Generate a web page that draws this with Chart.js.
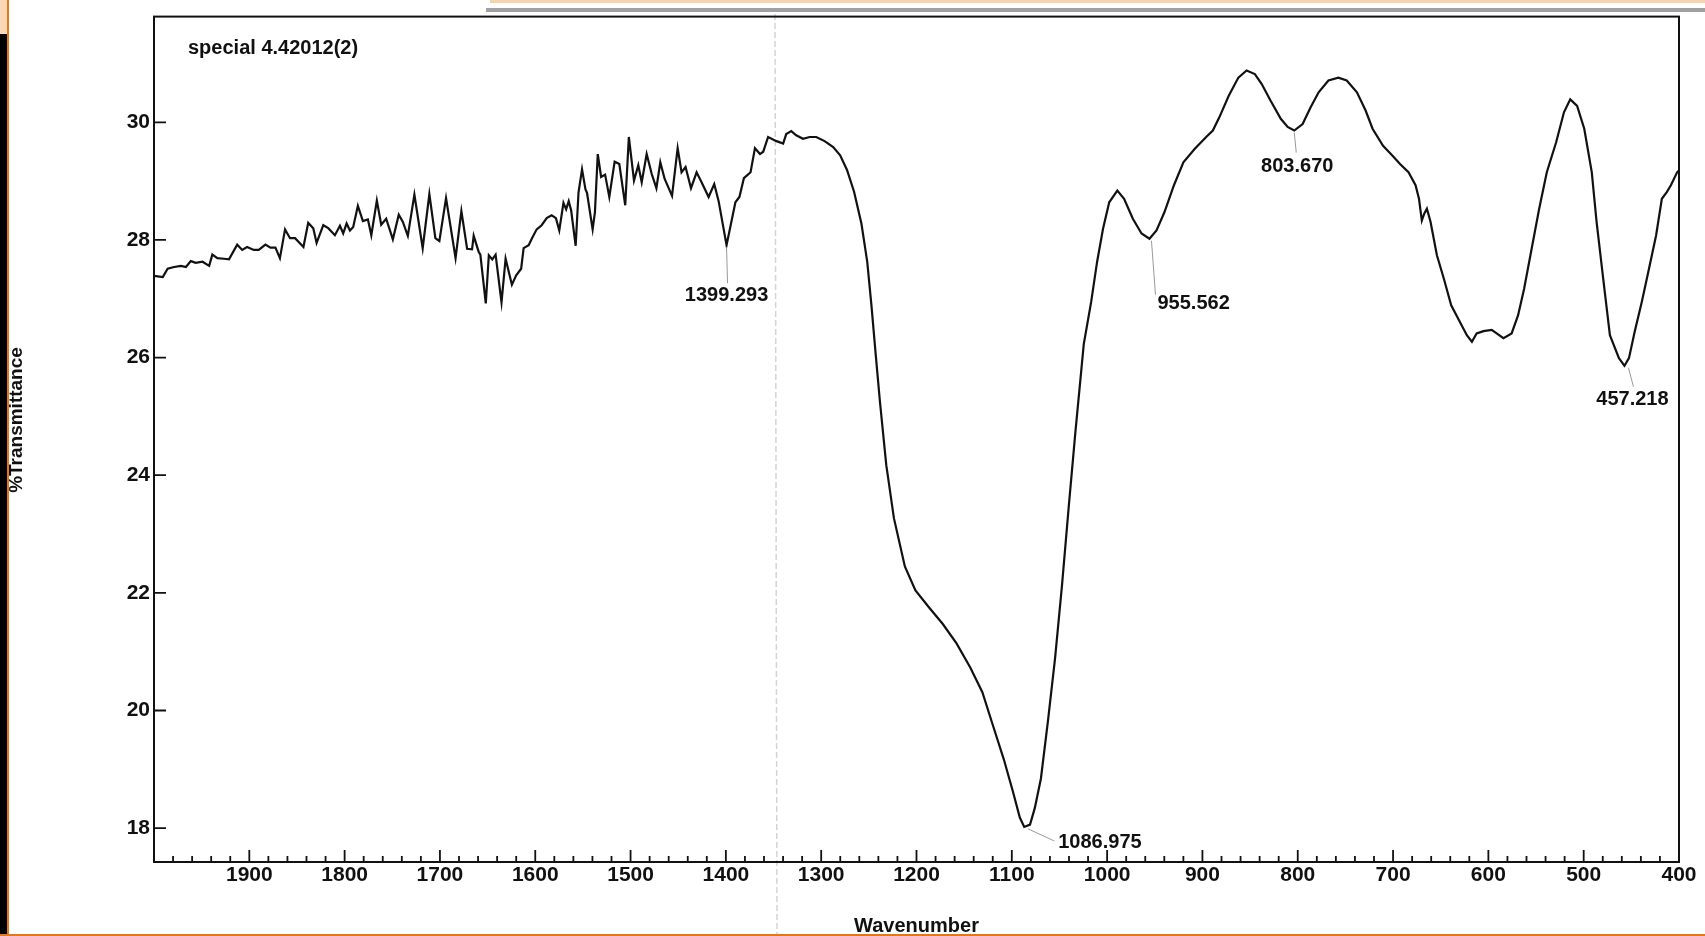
<!DOCTYPE html>
<html>
<head>
<meta charset="utf-8">
<title>IR spectrum - special 4.42012(2)</title>
<script src="https://cdn.jsdelivr.net/npm/chart.js@4.4.1/dist/chart.umd.min.js"></script>
<style>
  html, body { margin: 0; padding: 0; background: #fff; overflow: hidden; }
  #wrap { width: 1705px; height: 936px; position: relative; }
</style>
</head>
<body>
<div id="wrap"><canvas id="irChart" width="1705" height="936"></canvas></div>
<script>
// spectrum (cm-1, high -> low)
const wavenumbers = [
  2000, 1990.8, 1985.7, 1978.8, 1971.8, 1966.5, 1961.4, 1956.2, 1949.1, 1942.1,
  1938.8, 1933.5, 1926.6, 1921.3, 1912.7, 1907.5, 1902.3, 1895.3, 1890.1, 1883.1,
  1877.8, 1872.6, 1867.9, 1862.5, 1857.3, 1852.0, 1843.2, 1838.2, 1832.9, 1829.4,
  1822.4, 1817.2, 1810.2, 1804.9, 1801.5, 1797.9, 1794.4, 1791.0, 1786.1, 1780.8,
  1775.6, 1772.0, 1766.2, 1761.6, 1756.4, 1749.4, 1743.2, 1739.0, 1733.7, 1726.8,
  1718.1, 1711.1, 1704.8, 1700.6, 1693.6, 1683.6, 1677.5, 1671.5, 1666.3, 1664.6,
  1659.4, 1657.6, 1651.9, 1648.7, 1645.1, 1641.6, 1635.4, 1631.1, 1624.5, 1620.0,
  1614.8, 1612.2, 1606.9, 1603.4, 1598.5, 1593.3, 1588.0, 1582.8, 1578.3, 1574.8,
  1570.4, 1567.6, 1564.9, 1562.3, 1557.6, 1554.6, 1550.9, 1547.3, 1545.7, 1539.8,
  1537.4, 1534.4, 1530.9, 1526.7, 1522.3, 1516.7, 1511.8, 1505.6, 1501.8, 1496.4,
  1491.9, 1488.3, 1483.1, 1477.8, 1472.9, 1468.8, 1464.3, 1456.5, 1450.6, 1446.5,
  1442.3, 1436.6, 1430.7, 1425.5, 1418.1, 1412.2, 1407.6, 1399.293, 1390.0, 1385.8,
  1381.1, 1374.1, 1369.5, 1364.2, 1360.8, 1355.7, 1346.9, 1339.9, 1336.7, 1331.4,
  1326.2, 1319.1, 1312.1, 1305.2, 1296.4, 1287.4, 1280.1, 1272.9, 1265.5, 1257.8,
  1251.7, 1247.3, 1242.9, 1238.3, 1231.7, 1223.7, 1212.2, 1201.1, 1186.8, 1172.4,
  1158.0, 1143.6, 1130.9, 1119.7, 1108.4, 1099.0, 1091.6, 1086.975, 1080.9, 1075.9,
  1069.5, 1062.1, 1054.6, 1047.4, 1040.4, 1033.2, 1024.5, 1016.7, 1010.5, 1004.3,
  997.8, 989.3, 982.2, 973.0, 963.9, 955.562, 948.2, 939.9, 929.9, 920.0,
  908.0, 896.1, 889.1, 882.4, 872.4, 862.3, 853.7, 845.0, 837.8, 828.6,
  817.8, 810.6, 803.670, 794.9, 786.6, 778.1, 767.8, 757.4, 748.6, 737.9,
  728.8, 721.5, 710.5, 699.8, 692.7, 683.8, 676.4, 672.8, 669.8, 667.2,
  664.5, 660.7, 654.0, 646.7, 639.0, 630.0, 622.6, 617.3, 612.3, 605.2,
  596.5, 591.3, 584.2, 575.6, 568.8, 562.5, 554.6, 546.7, 538.7, 528.9,
  520.7, 514.1, 506.9, 499.4, 491.5, 486.5, 479.5, 472.5, 463.0, 457.218,
  452.5, 446.5, 439.0, 431.5, 424.0, 418.0, 413.0, 408.5, 402.0, 400
];
const transmittance = [
  27.39, 27.37, 27.51, 27.54, 27.56, 27.54, 27.64, 27.61, 27.63, 27.56,
  27.75, 27.69, 27.68, 27.67, 27.92, 27.83, 27.88, 27.83, 27.83, 27.92,
  27.87, 27.87, 27.69, 28.18, 28.03, 28.03, 27.88, 28.29, 28.20, 27.95,
  28.25, 28.20, 28.08, 28.24, 28.11, 28.28, 28.16, 28.22, 28.58, 28.32,
  28.35, 28.08, 28.67, 28.26, 28.36, 28.01, 28.43, 28.31, 28.07, 28.77,
  27.86, 28.78, 28.03, 27.98, 28.71, 27.69, 28.49, 27.85, 27.84, 28.07,
  27.80, 27.75, 26.92, 27.74, 27.67, 27.75, 26.94, 27.68, 27.24, 27.40,
  27.51, 27.86, 27.91, 28.03, 28.18, 28.25, 28.37, 28.42, 28.37, 28.16,
  28.63, 28.52, 28.66, 28.50, 27.90, 28.81, 29.20, 28.86, 28.80, 28.18,
  28.47, 29.46, 29.07, 29.11, 28.73, 29.33, 29.29, 28.59, 29.75, 29.01,
  29.27, 28.98, 29.46, 29.12, 28.88, 29.32, 29.04, 28.75, 29.56, 29.15,
  29.24, 28.88, 29.15, 28.98, 28.73, 28.95, 28.66, 27.91, 28.64, 28.73,
  29.05, 29.15, 29.56, 29.46, 29.50, 29.75, 29.68, 29.64, 29.80, 29.85,
  29.78, 29.72, 29.75, 29.75, 29.68, 29.58, 29.44, 29.19, 28.82, 28.28,
  27.63, 26.89, 26.07, 25.24, 24.17, 23.27, 22.45, 22.04, 21.75, 21.47,
  21.14, 20.73, 20.31, 19.74, 19.17, 18.63, 18.18, 18.02, 18.06, 18.34,
  18.84, 19.82, 20.89, 22.12, 23.44, 24.75, 26.23, 26.95, 27.63, 28.19,
  28.64, 28.84, 28.70, 28.36, 28.11, 28.02, 28.16, 28.47, 28.93, 29.32,
  29.55, 29.75, 29.86, 30.08, 30.45, 30.76, 30.88, 30.82, 30.65, 30.37,
  30.06, 29.92, 29.86, 29.97, 30.25, 30.51, 30.71, 30.76, 30.71, 30.51,
  30.20, 29.89, 29.60, 29.42, 29.29, 29.15, 28.93, 28.70, 28.33, 28.45,
  28.53, 28.31, 27.74, 27.34, 26.89, 26.61, 26.38, 26.27, 26.41, 26.45,
  26.47, 26.41, 26.33, 26.41, 26.72, 27.17, 27.85, 28.53, 29.15, 29.66,
  30.17, 30.39, 30.28, 29.89, 29.15, 28.31, 27.34, 26.38, 25.99, 25.86,
  25.99, 26.44, 26.95, 27.51, 28.08, 28.70, 28.81, 28.93, 29.15, 29.18
];

const xTickValues = [1900, 1800, 1700, 1600, 1500, 1400, 1300, 1200, 1100, 1000, 900, 800, 700, 600, 500, 400];
const yTickValues = [18, 20, 22, 24, 26, 28, 30];

// picked peaks printed on the spectrum
const peakWavenumbers = [1399.293, 1086.975, 955.562, 803.670, 457.218];
const peakTransmittance = [27.91, 18.02, 28.02, 29.86, 25.86];
const peakLabels = ["1399.293", "1086.975", "955.562", "803.670", "457.218"];

const sampleName = "special 4.42012(2)";
const xTitle = "Wavenumber";
const yTitle = "%Transmittance";

const FONT = '"Liberation Sans", Arial, sans-serif';

// where each peak note sits relative to its minimum (leader start, leader end, text)
const peakNoteLayout = [
  { l0: [0, 2], l1: [1, 38], t: [0, 50], align: "center" },
  { l0: [4, 2], l1: [30, 14], t: [34, 16], align: "left" },
  { l0: [2, 2], l1: [6, 56], t: [8, 65], align: "left" },
  { l0: [0, 2], l1: [2, 22], t: [3, 36], align: "center" },
  { l0: [4, 2], l1: [9, 21], t: [8, 34], align: "center" }
];

// scanned page edges (slide frame bits around the printout)
const scanFrame = {
  id: "scanFrame",
  beforeDraw(chart) {
    const c = chart.ctx;
    c.save();
    c.fillStyle = "#ffffff";
    c.fillRect(0, 0, chart.width, chart.height);
    c.fillStyle = "#fbd8b5";
    c.fillRect(0, 0, 7, 34);
    c.fillStyle = "#000000";
    c.fillRect(0, 34, 7, chart.height - 34);
    c.fillStyle = "#e0781c";
    c.fillRect(7, 0, 2, chart.height);
    c.fillRect(0, chart.height - 2, chart.width, 2);
    c.fillStyle = "#f8d2ad";
    c.fillRect(490, 0, chart.width - 490, 3);
    c.fillStyle = "#a0a0a0";
    c.fillRect(486, 8, chart.width - 486, 4);
    // fold mark of the paper
    c.strokeStyle = "#d4d4d4";
    c.lineWidth = 1.5;
    c.setLineDash([6, 3]);
    c.beginPath();
    c.moveTo(775, 14);
    c.lineTo(777, chart.height - 2);
    c.stroke();
    c.restore();
  }
};

// box, inward tick marks, y title and sample name
const plotFrame = {
  id: "plotFrame",
  afterDraw(chart) {
    const c = chart.ctx;
    const a = chart.chartArea;
    const xs = chart.scales.x;
    const ys = chart.scales.y;
    c.save();
    c.strokeStyle = "#111";
    c.lineWidth = 2;
    c.strokeRect(a.left, a.top, a.right - a.left, a.bottom - a.top);

    c.lineWidth = 1.8;
    c.beginPath();
    for (let w = 400; w <= 2000; w += 20) {
      const px = xs.getPixelForValue(w);
      const len = w % 100 === 0 ? 12 : 6;
      c.moveTo(px, a.bottom);
      c.lineTo(px, a.bottom - len);
    }
    yTickValues.forEach(v => {
      const py = ys.getPixelForValue(v);
      c.moveTo(a.left, py);
      c.lineTo(a.left + 12, py);
    });
    c.stroke();

    c.fillStyle = "#111";
    c.font = "bold 20px " + FONT;
    c.textAlign = "left";
    c.textBaseline = "middle";
    c.fillText(sampleName, a.left + 34, a.top + 32);

    c.font = "bold 19px " + FONT;
    c.translate(17, 420);
    c.rotate(-Math.PI / 2);
    c.textAlign = "center";
    c.fillText(yTitle, 0, 0);
    c.restore();
  }
};

const peakNotes = {
  id: "peakNotes",
  afterDatasetsDraw(chart) {
    const c = chart.ctx;
    const xs = chart.scales.x;
    const ys = chart.scales.y;
    c.save();
    c.font = "bold 20px " + FONT;
    c.textBaseline = "middle";
    peakWavenumbers.forEach((w, i) => {
      const px = xs.getPixelForValue(w);
      const py = ys.getPixelForValue(peakTransmittance[i]);
      const L = peakNoteLayout[i];
      c.strokeStyle = "#9a9a9a";
      c.lineWidth = 1;
      c.beginPath();
      c.moveTo(px + L.l0[0], py + L.l0[1]);
      c.lineTo(px + L.l1[0], py + L.l1[1]);
      c.stroke();
      c.fillStyle = "#111";
      c.textAlign = L.align;
      c.fillText(peakLabels[i], px + L.t[0], py + L.t[1]);
    });
    c.restore();
  }
};

const points = wavenumbers.map((w, i) => ({ x: w, y: transmittance[i] }));

const ctx = document.getElementById("irChart").getContext("2d");
new Chart(ctx, {
  type: "line",
  data: {
    datasets: [{
      data: points,
      borderColor: "#111",
      borderWidth: 2.2,
      pointRadius: 0,
      tension: 0,
      fill: false
    }]
  },
  options: {
    responsive: false,
    animation: false,
    parsing: false,
    layout: { padding: { left: 0, top: 14, right: 26, bottom: 0 } },
    plugins: {
      legend: { display: false },
      tooltip: { enabled: false }
    },
    scales: {
      x: {
        type: "linear",
        reverse: true,
        min: 400,
        max: 2000,
        afterBuildTicks: s => { s.ticks = xTickValues.map(v => ({ value: v })); },
        afterFit: s => { s.height = 74; },
        grid: { display: false, drawTicks: false },
        border: { display: false },
        ticks: {
          color: "#111",
          font: { family: FONT, size: 21, weight: "bold" },
          padding: 1,
          maxRotation: 0,
          autoSkip: false,
          callback: v => String(v)
        },
        title: {
          display: true,
          text: xTitle,
          color: "#111",
          font: { family: FONT, size: 20, weight: "bold", lineHeight: 1.0 },
          padding: 0
        }
      },
      y: {
        type: "linear",
        min: 17.424,
        max: 31.797,
        afterBuildTicks: s => { s.ticks = yTickValues.map(v => ({ value: v })); },
        afterFit: s => { s.width = 154; },
        grid: { display: false, drawTicks: false },
        border: { display: false },
        ticks: {
          color: "#111",
          font: { family: FONT, size: 21, weight: "bold" },
          padding: 4,
          callback: v => String(v)
        }
      }
    }
  },
  plugins: [scanFrame, plotFrame, peakNotes]
});
</script>
</body>
</html>
